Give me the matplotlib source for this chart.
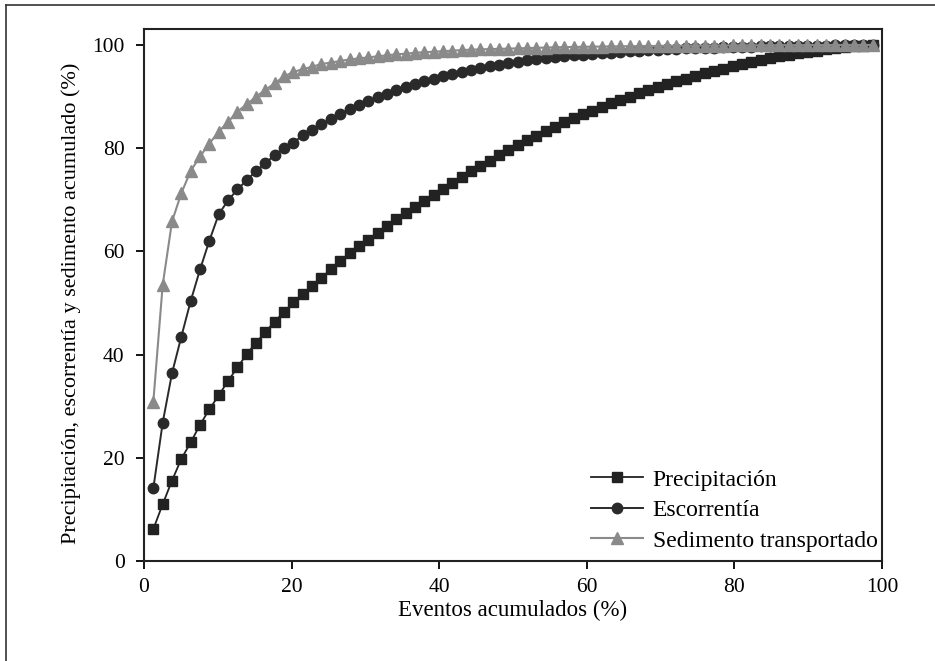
import numpy as np
import matplotlib
matplotlib.use("Agg")
import matplotlib.pyplot as plt
from matplotlib.lines import Line2D

plt.rcParams['font.family'] = ['Liberation Serif', 'DejaVu Serif']

# number of events (x = cumulative % of events)
n_events = 79
events = np.arange(1, 79)
eventos_pct = events / n_events * 100

precipitacion = [
    6.2, 11.0, 15.6, 19.8, 23.0, 26.4, 29.4, 32.1, 34.9, 37.5,
    40.1, 42.3, 44.4, 46.4, 48.3, 50.1, 51.7, 53.3, 54.9, 56.5,
    58.1, 59.6, 61.0, 62.3, 63.6, 64.9, 66.2, 67.4, 68.6, 69.8,
    71.0, 72.1, 73.3, 74.4, 75.5, 76.6, 77.6, 78.6, 79.6, 80.6,
    81.5, 82.4, 83.3, 84.2, 85.0, 85.8, 86.6, 87.3, 88.0, 88.7,
    89.4, 90.0, 90.7, 91.3, 91.9, 92.4, 93.0, 93.5, 94.0, 94.5,
    95.0, 95.4, 95.9, 96.3, 96.7, 97.1, 97.4, 97.8, 98.1, 98.4,
    98.7, 98.9, 99.2, 99.4, 99.6, 99.8, 99.9, 100.0,
]

escorrentia = [
    14.1, 26.8, 36.4, 43.5, 50.4, 56.5, 62.1, 67.2, 69.9, 72.0,
    73.8, 75.6, 77.1, 78.7, 80.0, 81.1, 82.5, 83.6, 84.7, 85.7,
    86.6, 87.5, 88.3, 89.1, 89.9, 90.6, 91.3, 91.9, 92.5, 93.0,
    93.5, 94.0, 94.4, 94.8, 95.2, 95.5, 95.9, 96.2, 96.5, 96.8,
    97.0, 97.2, 97.4, 97.6, 97.8, 98.0, 98.1, 98.3, 98.4, 98.5,
    98.6, 98.8, 98.9, 99.0, 99.1, 99.2, 99.3, 99.35, 99.4, 99.45,
    99.5, 99.55, 99.6, 99.65, 99.7, 99.72, 99.75, 99.78, 99.8, 99.83,
    99.86, 99.88, 99.9, 99.92, 99.94, 99.96, 99.98, 100.0,
]

sedimento = [
    30.9, 53.5, 65.8, 71.3, 75.6, 78.4, 80.9, 83.2, 85.1, 87.1,
    88.5, 90.0, 91.3, 92.6, 93.9, 94.8, 95.3, 95.8, 96.3, 96.6,
    96.9, 97.2, 97.4, 97.6, 97.8, 98.0, 98.2, 98.3, 98.5, 98.6,
    98.7, 98.8, 98.9, 99.0, 99.1, 99.15, 99.2, 99.25, 99.3, 99.35,
    99.4, 99.45, 99.5, 99.55, 99.6, 99.62, 99.65, 99.68, 99.7, 99.72,
    99.74, 99.76, 99.78, 99.8, 99.82, 99.84, 99.85, 99.86, 99.87, 99.88,
    99.89, 99.9, 99.91, 99.92, 99.93, 99.94, 99.95, 99.96, 99.97, 99.97,
    99.98, 99.98, 99.99, 99.99, 100.0, 100.0, 100.0, 100.0,
]

labels = ["Precipitación", "Escorrentía", "Sedimento transportado"]
xlabel = "Eventos acumulados (%)"
ylabel = "Precipitación, escorrentía y sedimento acumulado (%)"
ticks = [0, 20, 40, 60, 80, 100]

W, H = 935, 661
fig = plt.figure(figsize=(W / 100, H / 100), dpi=100)
ax = fig.add_axes([144 / W, (H - 561) / H, 738 / W, 532 / H])

ax.plot(eventos_pct, precipitacion, color='#222222', lw=1.3, marker='s',
        markersize=7, label=labels[0], zorder=2)
ax.plot(eventos_pct, escorrentia, color='#2a2a2a', lw=1.4, marker='o',
        markersize=7.5, label=labels[1], zorder=3)
ax.plot(eventos_pct, sedimento, color='#8a8a8a', lw=1.5, marker='^',
        markersize=8.5, label=labels[2], zorder=4)

ax.set_xlim(0, 100)
ax.set_ylim(0, 103.1)
ax.set_xticks(ticks)
ax.set_yticks(ticks)
ax.tick_params(direction='out', length=6, width=1.3, labelsize=15.5, pad=6)
ax.tick_params(axis='y', pad=8)
for s in ax.spines.values():
    s.set_linewidth(1.5)
    s.set_color('#222222')

ax.set_xlabel(xlabel, fontsize=16.5, labelpad=2)
ax.set_ylabel(ylabel, fontsize=16)
ax.yaxis.set_label_coords(-0.0854, 0.485)

leg = ax.legend(loc='lower right', bbox_to_anchor=(1.007, 0.0), frameon=False,
                fontsize=17, handlelength=2.2, handletextpad=0.42,
                labelspacing=0.38, borderaxespad=0.0)

# outer frame (left and top edges visible)
fig.add_artist(Line2D([6 / W, 6 / W], [0, 1 - 5 / H], transform=fig.transFigure,
                      color='#333333', lw=1.2))
fig.add_artist(Line2D([6 / W, 1], [1 - 5 / H, 1 - 5 / H], transform=fig.transFigure,
                      color='#333333', lw=1.2))

fig.savefig('out.png', dpi=100)
